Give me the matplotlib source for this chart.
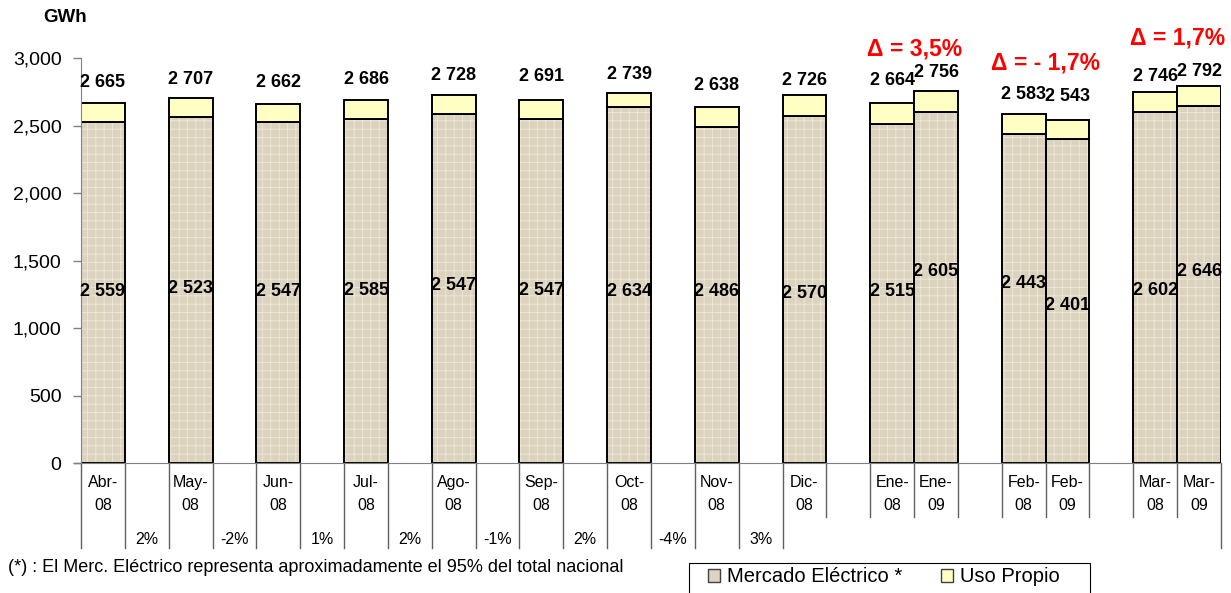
import numpy as np
import matplotlib.pyplot as plt
import matplotlib.ticker as mticker
import matplotlib.transforms as mtrans
from matplotlib.patches import Patch, Rectangle

plt.rcParams['font.family'] = ['Liberation Sans', 'DejaVu Sans']
plt.rcParams['hatch.linewidth'] = 0.6

# two-level Excel-style axis: month slots and month-to-month change slots
cat_labels = ['Abr-\n08', '', 'May-\n08', '', 'Jun-\n08', '', 'Jul-\n08', '', 'Ago-\n08', '',
              'Sep-\n08', '', 'Oct-\n08', '', 'Nov-\n08', '', 'Dic-\n08', '',
              'Ene-\n08', 'Ene-\n09', '', 'Feb-\n08', 'Feb-\n09', '', 'Mar-\n08', 'Mar-\n09']
pct_labels = ['', '2%', '', '-2%', '', '1%', '', '2%', '', '-1%', '', '2%', '', '-4%', '', '3%',
              '', '', '', '', '', '', '', '', '', '']

mercado = [2525, 2562, 2525, 2552, 2586, 2548, 2637, 2486, 2572, 2515, 2603, 2440, 2401, 2602, 2646]
total = [2665, 2707, 2662, 2686, 2728, 2691, 2739, 2638, 2726, 2664, 2756, 2583, 2543, 2746, 2792]
total_lbl = ['2 665', '2 707', '2 662', '2 686', '2 728', '2 691', '2 739', '2 638', '2 726',
             '2 664', '2 756', '2 583', '2 543', '2 746', '2 792']
mercado_lbl = ['2 559', '2 523', '2 547', '2 585', '2 547', '2 547', '2 634', '2 486', '2 570',
               '2 515', '2 605', '2 443', '2 401', '2 602', '2 646']
deltas = ['3,5%', '- 1,7%', '1,7%']

# label placement (as in the original sheet)
top_y = [2819, 2839, 2819, 2839, 2869, 2864, 2876, 2795, 2834, 2832, 2889, 2733, 2716, 2864, 2901]
mid_y = [1269, 1291, 1269, 1276, 1313, 1276, 1269, 1269, 1254, 1269, 1417, 1328, 1165, 1276, 1417]
delta_x = [18.5, 21.5, 24.5]
delta_y = [3069, 2965, 3150]

c_merc = '#DCD3BF'
c_uso = '#FFFFC4'

x = np.array([i for i, c in enumerate(cat_labels) if c])
mercado = np.array(mercado)
uso = np.array(total) - mercado

fig = plt.figure(figsize=(12.31, 5.93), dpi=100)
ax = fig.add_axes([81/1231, 1-463.3/593, 1140/1231, 405.3/593])

# textured fill, then black outlines
ax.bar(x, mercado, width=1, color=c_merc, edgecolor='#EEE8DA', hatch='++', linewidth=0)
ax.bar(x, mercado, width=1, facecolor='none', edgecolor='black', linewidth=1.4)
ax.bar(x, uso, width=1, bottom=mercado, color=c_uso, edgecolor='black', linewidth=1.4)

for xi, t, ty, m, my in zip(x, total_lbl, top_y, mercado_lbl, mid_y):
    ax.text(xi, ty, t, ha='center', va='center', fontsize=13, fontweight='bold', clip_on=False)
    ax.text(xi, my, m, ha='center', va='center', fontsize=13, fontweight='bold')

for dx, dy, d in zip(delta_x, delta_y, deltas):
    ax.text(dx, dy, '\u0394 = ' + d, ha='center', va='center', fontsize=16.5,
            fontweight='bold', color='#FF0000', clip_on=False)

ax.set_xlim(-0.5, len(cat_labels) - 0.5)
ax.set_ylim(0, 3000)
ax.yaxis.set_major_locator(mticker.MultipleLocator(500))
ax.yaxis.set_major_formatter(mticker.FuncFormatter(lambda v, p: f'{int(v):,}'))
ax.tick_params(axis='y', labelsize=14, length=6, color='#808080', width=1, pad=8)
ax.set_xticks([])
for s in ['top', 'right']:
    ax.spines[s].set_visible(False)
ax.spines['left'].set_color('#808080')
ax.spines['bottom'].set_color('#808080')

# category grid below the axis
trans = mtrans.blended_transform_factory(ax.transData, ax.transAxes)
n = len(cat_labels)
for i in range(n + 1):
    b = i - 0.5
    y_end = -0.209 if (b <= 15.5 or i == n) else -0.1325
    ax.plot([b, b], [0, y_end], color='#606060', lw=1, transform=trans, clip_on=False)
ax.plot([-0.65, -0.5], [0, 0], color='#808080', lw=1, transform=trans, clip_on=False)
for i, (c, p) in enumerate(zip(cat_labels, pct_labels)):
    if c:
        top, bot = c.split('\n')
        ax.text(i, -0.0486, top, ha='center', va='center', fontsize=11.5, transform=trans)
        ax.text(i, -0.105, bot, ha='center', va='center', fontsize=11.5, transform=trans)
    if p:
        ax.text(i, -0.1875, p, ha='center', va='center', fontsize=11.5, transform=trans)

fig.text(65/1231, 1-18/593, 'GWh', ha='center', va='center', fontsize=13.5, fontweight='bold')
fig.text(8/1231, 1-567/593, '(*) : El Merc. Eléctrico representa aproximadamente el 95% del total nacional',
         ha='left', va='center', fontsize=13)

# legend box (runs off the bottom edge like the original)
fig.patches.append(Rectangle((689/1231, -0.02), 401/1231, 0.02 + 30/593, transform=fig.transFigure,
                             facecolor='white', edgecolor='black', linewidth=0.8))
handles = [Patch(facecolor=c_merc, edgecolor='#404040', label='Mercado Eléctrico *'),
           Patch(facecolor=c_uso, edgecolor='#404040', label='Uso Propio')]
leg = fig.legend(handles=handles, loc='center left', bbox_to_anchor=(708/1231, 1-577/593),
                 ncol=2, fontsize=14.5, frameon=False, handlelength=0.6,
                 handleheight=0.6, handletextpad=0.35, columnspacing=1.9, borderpad=0,
                 borderaxespad=0)

fig.savefig('out.png', dpi=100)
